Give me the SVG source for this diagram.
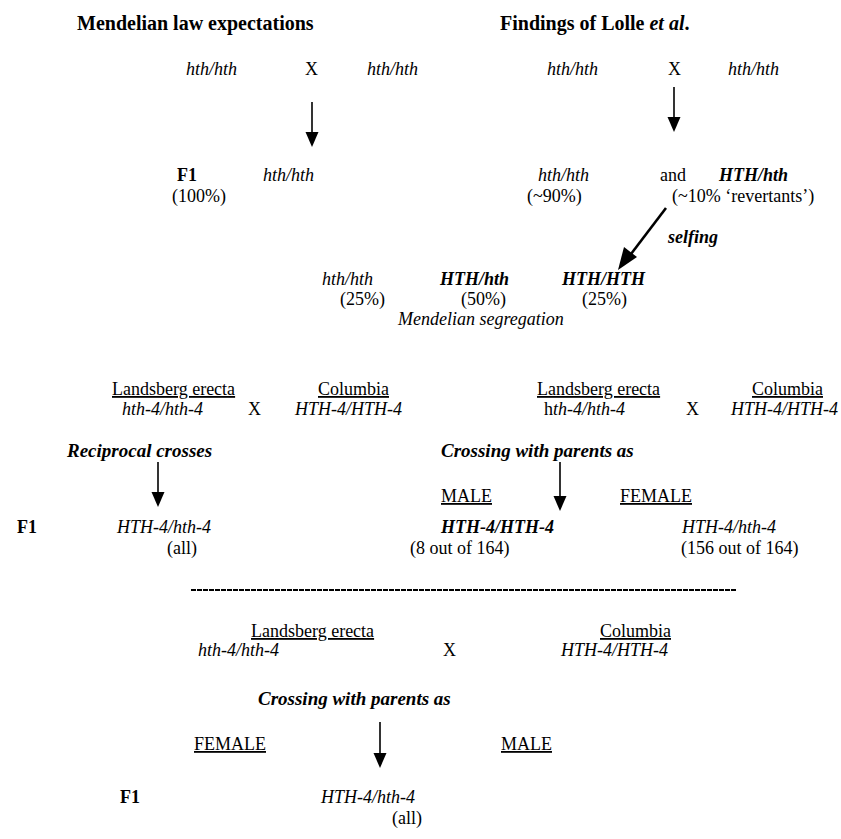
<svg xmlns="http://www.w3.org/2000/svg" width="841" height="839" viewBox="0 0 841 839">
<style>
text{font-family:"Liberation Serif","Times New Roman",serif;font-size:18px;fill:#000}
.t{font-weight:bold;font-size:20px}
.b{font-weight:bold}
.i{font-style:italic}
.bi{font-weight:bold;font-style:italic}
.h{font-weight:bold;font-style:italic;font-size:19px}
.u{text-decoration:underline}
.sh{stroke:#000;stroke-width:1.6;fill:none}
.hd{fill:#000;stroke:none}
</style>
<rect width="841" height="839" fill="#fff"/>
<g id="connectors">
<line class="sh" x1="312" y1="102" x2="312" y2="134"/><path class="hd" d="M305.5,132 L318.5,132 L312,147 z"/>
<line class="sh" x1="674" y1="87" x2="674" y2="119"/><path class="hd" d="M667.5,117 L680.5,117 L674,132 z"/>
<line x1="666" y1="208" x2="631" y2="254" stroke="#000" stroke-width="2.6"/><path class="hd" d="M624,247 L637,257 L618,270 z"/>
<line class="sh" x1="158" y1="462" x2="158" y2="494"/><path class="hd" d="M151.5,492 L164.5,492 L158,507 z"/>
<line class="sh" x1="560" y1="462" x2="560" y2="498"/><path class="hd" d="M553.5,496 L566.5,496 L560,511 z"/>
<line class="sh" x1="380" y1="722" x2="380" y2="755"/><path class="hd" d="M373.5,753 L386.5,753 L380,768 z"/>
<line x1="191" y1="590" x2="736" y2="590" stroke="#000" stroke-width="2.2" stroke-dasharray="5,1"/>
</g>
<g id="title-left"><text x="77" y="30" class="t">Mendelian law expectations</text></g>
<g id="title-right"><text x="500" y="30" class="t">Findings of Lolle <tspan class="i">et al</tspan>.</text></g>
<g id="mendel-parents">
<text x="186" y="75" class="i">hth/hth</text>
<text x="305" y="75">X</text>
<text x="367" y="75" class="i">hth/hth</text>
</g>
<g id="lolle-parents">
<text x="547" y="75" class="i">hth/hth</text>
<text x="668" y="75">X</text>
<text x="728" y="75" class="i">hth/hth</text>
</g>
<g id="mendel-f1">
<text x="177" y="181" class="b">F1</text>
<text x="172" y="202">(100%)</text>
<text x="263" y="181" class="i">hth/hth</text>
</g>
<g id="lolle-f1">
<text x="538" y="181" class="i">hth/hth</text>
<text x="527" y="202">(~90%)</text>
<text x="660" y="181">and</text>
<text x="719" y="181" class="bi">HTH/hth</text>
<text x="672" y="202">(~10% ‘revertants’)</text>
</g>
<g id="selfing-label"><text x="668" y="243" class="bi">selfing</text></g>
<g id="segregation">
<text x="322" y="285" class="i">hth/hth</text>
<text x="340" y="305">(25%)</text>
<text x="440" y="285" class="bi">HTH/hth</text>
<text x="461" y="305">(50%)</text>
<text x="562" y="285" class="bi">HTH/HTH</text>
<text x="582" y="305">(25%)</text>
<text x="398" y="325" class="i">Mendelian segregation</text>
</g>
<g id="reciprocal-parents">
<text x="112" y="395" class="u">Landsberg erecta</text>
<text x="122" y="415" class="i">hth-4/hth-4</text>
<text x="248" y="415">X</text>
<text x="318" y="395" class="u">Columbia</text>
<text x="295" y="415" class="i">HTH-4/HTH-4</text>
</g>
<g id="reciprocal">
<text x="67" y="457" class="h">Reciprocal crosses</text>
<text x="17" y="533" class="b">F1</text>
<text x="117" y="533" class="i">HTH-4/hth-4</text>
<text x="167" y="554">(all)</text>
</g>
<g id="male-parents">
<text x="537" y="395" class="u">Landsberg erecta</text>
<text x="544" y="415">h<tspan class="i">th-4/hth-4</tspan></text>
<text x="686" y="415">X</text>
<text x="752" y="395" class="u">Columbia</text>
<text x="731" y="415" class="i">HTH-4/HTH-4</text>
</g>
<g id="male-cross">
<text x="441" y="457" class="h">Crossing with parents as</text>
<text x="441" y="502" class="u">MALE</text>
<text x="620" y="502" class="u">FEMALE</text>
<text x="441" y="533" class="bi">HTH-4/HTH-4</text>
<text x="410" y="554">(8 out of 164)</text>
<text x="682" y="533" class="i">HTH-4/hth-4</text>
<text x="681" y="554">(156 out of 164)</text>
</g>
<g id="female-parents">
<text x="251" y="637" class="u">Landsberg erecta</text>
<text x="198" y="656" class="i">hth-4/hth-4</text>
<text x="443" y="656">X</text>
<text x="600" y="637" class="u">Columbia</text>
<text x="561" y="656" class="i">HTH-4/HTH-4</text>
</g>
<g id="female-cross">
<text x="258" y="705" class="h">Crossing with parents as</text>
<text x="194" y="750" class="u">FEMALE</text>
<text x="501" y="750" class="u">MALE</text>
<text x="120" y="803" class="b">F1</text>
<text x="321" y="803" class="i">HTH-4/hth-4</text>
<text x="392" y="824">(all)</text>
</g>
</svg>
